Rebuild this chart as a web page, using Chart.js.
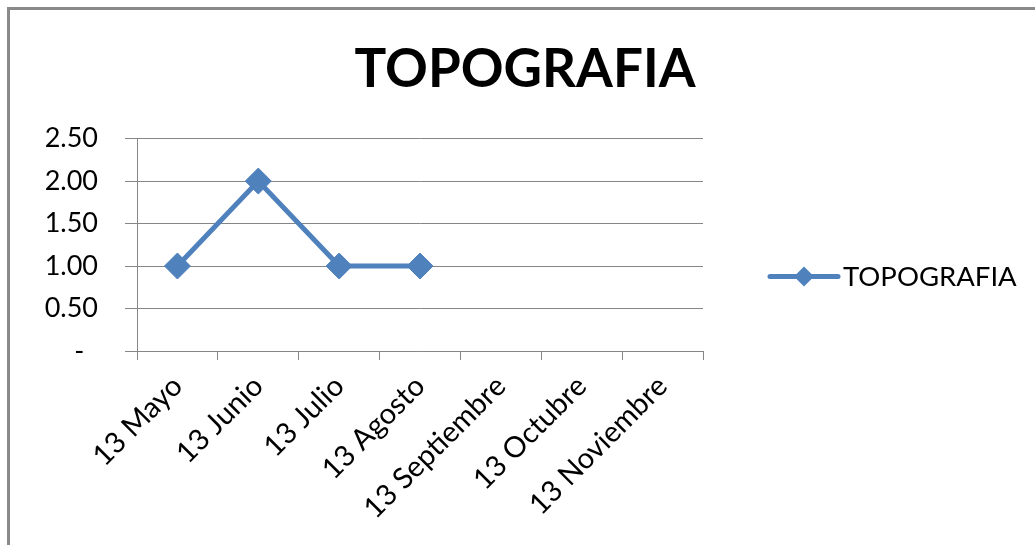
<!DOCTYPE html>
<html>
<head>
<meta charset="utf-8">
<script src="https://cdn.jsdelivr.net/npm/chart.js@4.4.1/dist/chart.umd.min.js"></script>
<style>
  html, body { margin: 0; padding: 0; background: #fff; overflow: hidden; }
  #wrap { position: relative; width: 1035px; height: 545px; }
  #frame {
    position: absolute; left: 7px; top: 7px; width: 1200px; height: 700px;
    border-left: 3px solid #8a8a8a; border-top: 3px solid #8a8a8a;
    pointer-events: none;
  }
</style>
</head>
<body>
<div id="wrap">
  <canvas id="myChart" width="1035" height="545"></canvas>
  <div id="frame"></div>
</div>
<script>
const categories = ['13 Mayo', '13 Junio', '13 Julio', '13 Agosto', '13 Septiembre', '13 Octubre', '13 Noviembre'];
const topografia = [1, 2, 1, 1, null, null, null];
const yTicks = [0, 0.5, 1, 1.5, 2, 2.5];

const blue = '#4F81BD';
const axisGrey = '#868686';
const font = 'Lato';

// legend drawn on the right: line sample with diamond, then the series name
const sideLegend = {
    id: 'sideLegend',
    afterDraw(chart) {
        const c = chart.ctx;
        const area = chart.chartArea;
        const x0 = area.right + 67;
        const y = area.top + 138;
        c.save();
        c.strokeStyle = blue;
        c.lineWidth = 5;
        c.lineCap = 'round';
        c.beginPath();
        c.moveTo(x0, y);
        c.lineTo(x0 + 68, y);
        c.stroke();
        c.fillStyle = blue;
        c.beginPath();
        c.moveTo(x0 + 34, y - 10);
        c.lineTo(x0 + 44, y);
        c.lineTo(x0 + 34, y + 10);
        c.lineTo(x0 + 24, y);
        c.closePath();
        c.fill();
        c.fillStyle = '#000';
        c.font = '27.5px ' + font;
        c.textBaseline = 'middle';
        c.fillText(chart.data.datasets[0].label, x0 + 73, y + 1);
        c.restore();
    }
};

const ctx = document.getElementById('myChart');
new Chart(ctx, {
    type: 'line',
    data: {
        labels: categories,
        datasets: [{
            label: 'TOPOGRAFIA',
            data: topografia,
            borderColor: blue,
            backgroundColor: blue,
            borderWidth: 5,
            pointStyle: 'rectRot',
            pointRadius: 13,
            pointBorderWidth: 1,
            pointBackgroundColor: blue,
            pointBorderColor: blue,
            tension: 0,
            spanGaps: false
        }]
    },
    options: {
        responsive: false,
        animation: false,
        layout: { padding: { left: 15, right: 0, top: 0, bottom: 0 } },
        plugins: {
            legend: { display: false },
            tooltip: { enabled: false },
            title: {
                display: true,
                text: 'TOPOGRAFIA',
                color: '#000',
                font: { family: font, weight: 'bold', size: 53, lineHeight: 1.2 },
                padding: { top: 38, bottom: 37 }
            }
        },
        scales: {
            x: {
                type: 'category',
                offset: true,
                grid: { offset: true, drawOnChartArea: false, tickLength: 9, color: axisGrey, lineWidth: 1 },
                border: { color: axisGrey, width: 1 },
                ticks: {
                    color: '#000',
                    font: { family: font, size: 29 },
                    minRotation: 45,
                    maxRotation: 45,
                    autoSkip: false,
                    padding: 9
                },
                afterFit: s => { s.height = 194; }
            },
            y: {
                min: 0,
                max: 2.5,
                afterBuildTicks: s => { s.ticks = yTicks.map(v => ({ value: v })); },
                grid: { color: axisGrey, lineWidth: 1, tickLength: 12 },
                border: { color: axisGrey, width: 1 },
                ticks: {
                    color: '#000',
                    font: { family: font, size: 27 },
                    padding: 27,
                    callback: v => v === 0 ? '-  ' : Number(v).toFixed(2)
                },
                afterFit: s => { s.width = 122; }
            },
            // empty axis on the right that keeps room for the legend
            side: {
                position: 'right',
                grid: { display: false },
                border: { display: false },
                ticks: { display: false },
                afterFit: s => { s.width = 332; }
            }
        }
    },
    plugins: [sideLegend]
});
</script>
</body>
</html>
